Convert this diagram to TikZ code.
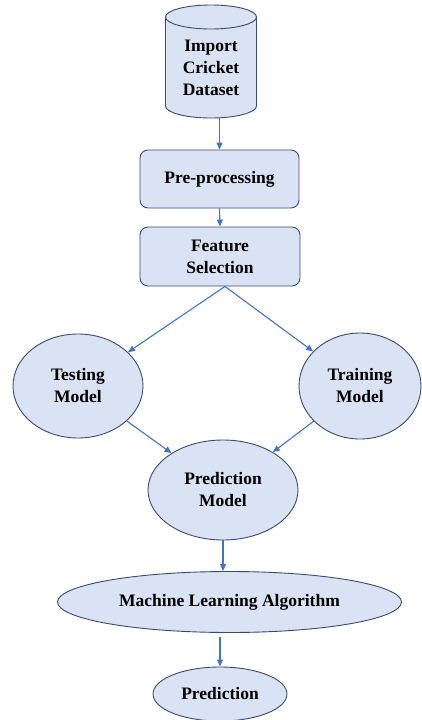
\documentclass[tikz,border=0pt]{standalone}
\usepackage{fontspec}
\setmainfont{Liberation Serif}
\usetikzlibrary{shapes.geometric,arrows.meta}
\definecolor{boxfill}{HTML}{DAE3F3}
\definecolor{boxedge}{HTML}{3B4B6B}
\definecolor{arrowblue}{HTML}{4472C4}

\begin{document}
\begin{tikzpicture}[x=1pt,y=-1pt,
  lbl/.style={font=\fontsize{17.5}{22}\selectfont\bfseries, align=center, text=black},
  shp/.style={draw=boxedge, fill=boxfill, line width=0.9pt},
  stepbox/.style={shp, lbl, rectangle, rounded corners=8pt, inner sep=0pt},
  oval/.style={shp, lbl, ellipse, inner sep=0pt},
  flow/.style={draw=arrowblue, line width=1.1pt, -{Triangle[length=7pt,width=6pt]}}]
\useasboundingbox (0,0) rectangle (422,720);

% database cylinder
\path[fill=boxfill] (165.5,17) -- (165.5,106)
  .. controls (165.5,112.63) and (185.87,118) .. (211,118)
  .. controls (236.13,118) and (256.5,112.63) .. (256.5,106)
  -- (256.5,17) -- cycle;
\draw[draw=boxedge, line width=0.9pt] (165.5,17) -- (165.5,106)
  .. controls (165.5,112.63) and (185.87,118) .. (211,118)
  .. controls (236.13,118) and (256.5,112.63) .. (256.5,106)
  -- (256.5,17);
\draw[shp] (211,17) ellipse [x radius=45.5, y radius=12];
\node[lbl, minimum width=91pt, minimum height=101pt, inner sep=0pt] (imp) at (211,67.5)
  {Import\\Cricket\\Dataset};

% process boxes
\node[stepbox, minimum width=159pt, minimum height=58pt] (pre) at (219.5,179) {Pre-processing};
\node[stepbox, minimum width=160pt, minimum height=59pt] (fs) at (220,256.5) {Feature\\Selection};

% model ovals
\node[oval, minimum width=130pt, minimum height=104pt] (test) at (78,386) {Testing\\Model};
\node[oval, minimum width=122pt, minimum height=106pt] (train) at (360,386) {Training\\Model};
\node[oval, minimum width=150pt, minimum height=100pt] (pm) at (223,490) {Prediction\\Model};
\node[oval, minimum width=344pt, minimum height=61pt] (ml) at (229.5,602) {Machine Learning Algorithm};
\node[oval, minimum width=134pt, minimum height=54pt] (pred) at (220,694) {Prediction};

% connectors
\draw[flow] (imp.south -| pre.north) -- (pre.north);
\draw[flow] (pre.south) -- (fs.north);
\draw[flow] ([xshift=5pt]fs.south) -- (test);
\draw[flow] ([xshift=5pt]fs.south) -- (train);
\draw[flow] (test) -- (pm);
\draw[flow] (train) -- (pm);
\draw[flow] (pm.south) -- (pm.south |- ml.north);
\draw[flow, shorten <=4pt] (ml.south -| pred.north) -- (pred.north);
\end{tikzpicture}
\end{document}
